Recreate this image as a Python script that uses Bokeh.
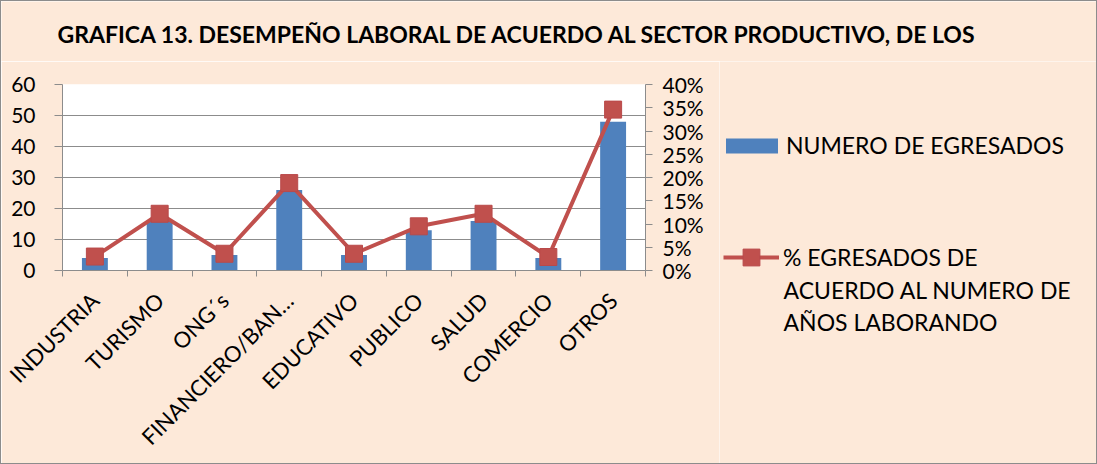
import math
from bokeh.plotting import figure
from bokeh.layouts import column, row
from bokeh.models import (Range1d, LinearAxis, FixedTicker, NumeralTickFormatter,
                          Legend, LegendItem, Label, ColumnDataSource)
from bokeh.embed import file_html
from bokeh.resources import INLINE

# ---- data ----
categories = ["INDUSTRIA", "TURISMO", "ONG´s", "FINANCIERO/BAN…", "EDUCATIVO",
              "PUBLICO", "SALUD", "COMERCIO", "OTROS"]
egresados = [4, 16, 5, 26, 5, 13, 16, 4, 48]
porcentaje = [0.030, 0.122, 0.036, 0.188, 0.036, 0.095, 0.122, 0.029, 0.346]
left_ticks = [0, 10, 20, 30, 40, 50, 60]
right_ticks = [0, 0.05, 0.10, 0.15, 0.20, 0.25, 0.30, 0.35, 0.40]
title_text = "GRAFICA 13. DESEMPEÑO LABORAL DE ACUERDO AL SECTOR PRODUCTIVO, DE LOS"
bar_label = "NUMERO DE EGRESADOS"
line_label_lines = ["% EGRESADOS DE", "ACUERDO AL NUMERO DE", "AÑOS LABORANDO"]

FONT = "Lato"
BG = "#FDE9D9"
GRID = "#8C8C8C"
BLUE = "#4F81BD"
RED = "#C0504D"
RED_EDGE = "#B9494A"

W, H = 1095, 462
TH = 60          # title strip height
MW = 718         # main chart width
LW = W - MW      # legend strip width
CH = H - TH      # chart height

common = dict(output_backend="svg", toolbar_location=None, outline_line_color=None,
              border_fill_color=BG)

# ---- title strip ----
tfig = figure(width=W, height=TH, x_range=Range1d(0, W), y_range=Range1d(0, TH),
              min_border=0, x_axis_location=None, y_axis_location=None,
              background_fill_color=BG, **common)
tfig.frame_align = False
tfig.grid.visible = False
tfig.add_layout(Label(x=56, y=TH - 32, text=title_text, text_font=FONT,
                      text_font_style="bold", text_font_size="23px",
                      text_color="black", text_baseline="middle"))

# ---- main chart ----
n = len(categories)
xpos = [i + 0.5 for i in range(n)]
src = ColumnDataSource(dict(x=xpos, n=egresados, pct=porcentaje))

p = figure(width=MW, height=CH, x_range=Range1d(0, n), y_range=Range1d(0, 60),
           min_border_left=61, min_border_right=74, min_border_top=23,
           min_border_bottom=193, background_fill_color="white", **common)
p.frame_align = False
p.extra_y_ranges = {"pct": Range1d(0, 0.4)}

p.vbar(x="x", top="n", width=0.4, source=src, fill_color=BLUE, line_color=None)
p.line(x="x", y="pct", source=src, y_range_name="pct", line_color=RED, line_width=4)
p.scatter(x="x", y="pct", source=src, y_range_name="pct", marker="square",
          size=17, fill_color=RED, line_color=RED_EDGE, line_width=1)

p.xgrid.visible = False
p.ygrid.ticker = FixedTicker(ticks=left_ticks)
p.ygrid.grid_line_color = GRID
p.ygrid.grid_line_width = 1

xa = p.xaxis[0]
xa.ticker = FixedTicker(ticks=xpos, minor_ticks=list(range(n + 1)))
xa.major_label_overrides = {x: c for x, c in zip(xpos, categories)}
xa.major_tick_in = 0
xa.major_tick_out = 0
xa.minor_tick_in = 0
xa.minor_tick_out = 6
xa.minor_tick_line_color = GRID
xa.axis_line_color = GRID
xa.major_label_orientation = math.pi / 4
xa.major_label_text_font = FONT
xa.major_label_text_font_size = "22px"
xa.major_label_text_color = "black"
xa.major_label_standoff = 20

ya = p.yaxis[0]
ya.ticker = FixedTicker(ticks=left_ticks)
ya.major_tick_in = 0
ya.major_tick_out = 8
ya.minor_tick_out = 0
ya.minor_tick_in = 0
ya.major_tick_line_color = GRID
ya.axis_line_color = GRID
ya.major_label_text_font = FONT
ya.major_label_text_font_size = "21px"
ya.major_label_text_color = "black"
ya.major_label_standoff = 19

ra = LinearAxis(y_range_name="pct", ticker=FixedTicker(ticks=right_ticks),
                formatter=NumeralTickFormatter(format="0%"))
ra.major_tick_in = 0
ra.major_tick_out = 7
ra.minor_tick_out = 0
ra.minor_tick_in = 0
ra.major_tick_line_color = GRID
ra.axis_line_color = GRID
ra.major_label_text_font = FONT
ra.major_label_text_font_size = "21px"
ra.major_label_text_color = "black"
ra.major_label_standoff = 10
p.add_layout(ra, "right")

# ---- legend strip ----
lfig = figure(width=LW, height=CH, x_range=Range1d(0, LW), y_range=Range1d(0, CH),
              min_border=0, x_axis_location=None, y_axis_location=None,
              background_fill_color=BG, **common)
lfig.frame_align = False
lfig.grid.visible = False
# hidden key renderers (same data, not drawn here; they only give the legend its keys)
kb = lfig.vbar(x="x", top="n", width=0.4, source=src, fill_color=BLUE,
               line_color=None, visible=False)
kl = lfig.line(x="x", y="pct", source=src, line_color=RED, line_width=4, visible=False)
ks = lfig.scatter(x="x", y="pct", source=src, marker="square", size=17,
                  fill_color=RED, line_color=RED_EDGE, line_width=1, visible=False)

leg_style = dict(padding=0, margin=0, spacing=0, inactive_fill_alpha=0,
                 background_fill_alpha=0, border_line_color=None,
                 label_text_font=FONT, label_text_font_size="23px",
                 label_text_color="black")
leg1 = Legend(items=[LegendItem(label=bar_label, renderers=[kb])],
              location=(0, 304), glyph_width=65, glyph_height=19,
              label_standoff=2, **leg_style)
leg2 = Legend(items=[LegendItem(label=line_label_lines[0], renderers=[kl, ks])],
              location=(4, 185), glyph_width=56, glyph_height=42,
              label_standoff=4, **leg_style)
lfig.add_layout(leg1)
lfig.add_layout(leg2)
for i, t in enumerate(line_label_lines[1:]):
    lfig.add_layout(Label(x=64, y=174 - 32 * i, text=t, text_font=FONT,
                          text_font_size="23px", text_baseline="middle",
                          text_color="black"))

layout = column(tfig, row(p, lfig, spacing=0), spacing=0)
layout.styles = {"border": "1px solid #8C8C8C"}

open("out.html", "w").write(file_html(layout, INLINE))
